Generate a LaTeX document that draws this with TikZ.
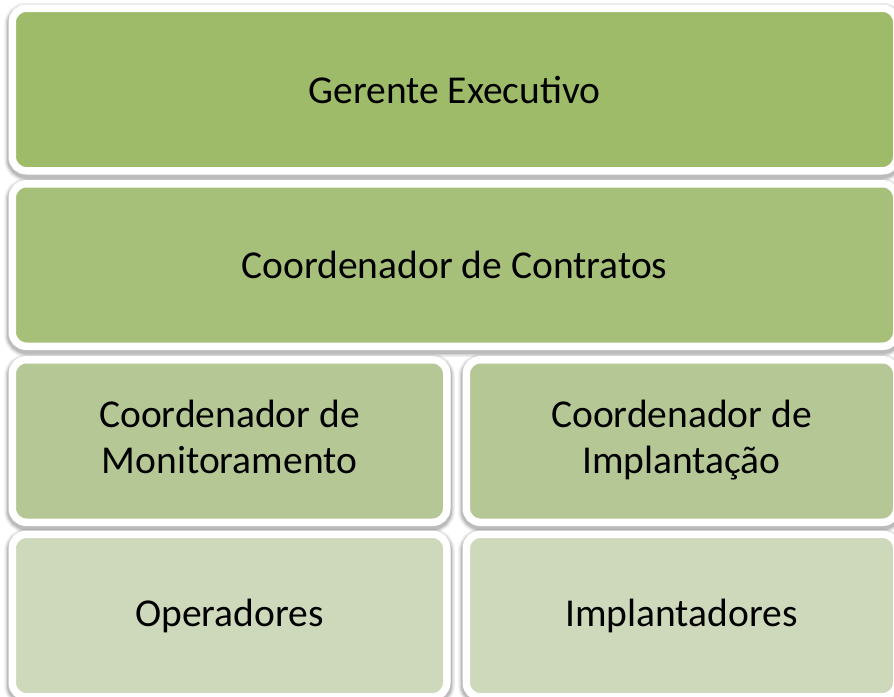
\documentclass[tikz,border=0pt]{standalone}
\usepackage{fontspec}
\setmainfont{Carlito}
\definecolor{lvA}{RGB}{158,187,106}
\definecolor{lvB}{RGB}{166,192,121}
\definecolor{lvC}{RGB}{181,199,149}
\definecolor{lvD}{RGB}{206,216,187}
\begin{document}
\begin{tikzpicture}[x=1pt,y=-1pt,
  orgbox/.style={draw=white, line width=7.5pt, rounded corners=14pt, inner sep=0pt,
    minimum height=162.5pt, align=center, text=black,
    font=\fontsize{39.5}{46}\selectfont,
    preaction={draw=black, draw opacity=0.07, line width=16pt, transform canvas={yshift=-2.5pt}},
    preaction={draw=black, draw opacity=0.09, line width=13pt, transform canvas={yshift=-2.5pt}},
    preaction={draw=black, draw opacity=0.12, line width=10.5pt, transform canvas={yshift=-2.5pt}}},
  wide/.style={orgbox, minimum width=884.5pt},
  halfL/.style={orgbox, minimum width=434.5pt},
  halfR/.style={orgbox, minimum width=430.5pt}]
\useasboundingbox (0,0) rectangle (894,696);
\fill[white] (0,0) rectangle (894,696);
\node[wide, fill=lvA] (ger) at (454.5,89.5) {Gerente Executivo};
\node[wide, fill=lvB] (con) at (454.5,265) {Coordenador de Contratos};
\node[halfL, fill=lvC] (mon) at (229.5,441) {\strut Coordenador de\\Monitoramento\strut};
\node[halfR, fill=lvC] (imp) at (681.5,441) {\strut Coordenador de\\Implantação\strut};
\node[halfL, fill=lvD] (ope) at (229.5,615.5) {Operadores};
\node[halfR, fill=lvD] (ipl) at (681.5,615.5) {Implantadores};
\end{tikzpicture}
\end{document}
